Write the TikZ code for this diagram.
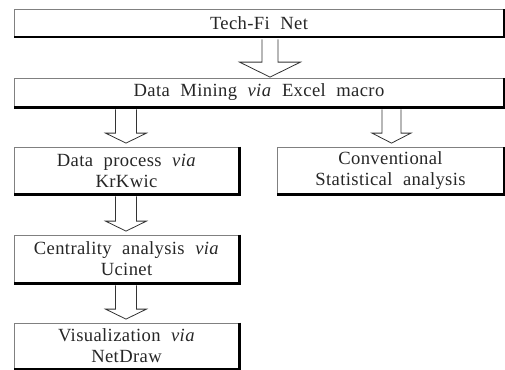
\documentclass[tikz,border=0pt]{standalone}
\usepackage{fontspec}
\setmainfont[WordSpace=2.1,LetterSpace=2]{Liberation Serif}
\usetikzlibrary{calc}

% hollow block arrow: from box, to box, x of the arrow, half shaft, half head, head length, gap at the tip
\newcommand\blockarr[7]{%
  \draw[arrowline]
    ($(#3,0 |- #1.south)+(-#4,2)$) -- ($(#3,0 |- #2.north)+(-#4,-#6-#7)$)
    -- ++(#4-#5,0) -- ($(#3,0 |- #2.north)+(0,-#7)$)
    -- ($(#3,0 |- #2.north)+(#5,-#6-#7)$) -- ++(#4-#5,0)
    -- ($(#3,0 |- #1.south)+(#4,2)$);
}

\begin{document}
\begin{tikzpicture}[x=1pt,y=-1pt,
    flowbox/.style={draw=gray, line width=0.8pt, inner sep=0pt, align=center,
      text=black!85, font=\fontsize{18.6}{21}\selectfont},
    shadowline/.style={line width=2.2pt, black},
    arrowline/.style={line width=0.8pt, black!80, line join=miter}]
  \useasboundingbox (0,0) rectangle (505,369);
  % boxes
  \node[flowbox, minimum width=490pt, minimum height=28pt] (net) at (259,23) {Tech-Fi Net};
  \node[flowbox, minimum width=490pt, minimum height=29pt] (mine) at (259,92.5)
    {Data Mining \textit{via} Excel macro};
  \node[flowbox, minimum width=225pt, minimum height=47pt] (proc) at (126.5,170.5)
    {Data process \textit{via}\\KrKwic};
  \node[flowbox, minimum width=227pt, minimum height=47pt] (stat) at (390.5,170.5)
    {Conventional\\Statistical analysis};
  \node[flowbox, minimum width=225pt, minimum height=48pt] (cent) at (126.5,259)
    {Centrality analysis \textit{via}\\Ucinet};
  \node[flowbox, minimum width=225pt, minimum height=46pt] (vis) at (126.5,346)
    {Visualization \textit{via}\\NetDraw};
  % shadow on right and bottom
  \foreach \b in {net,mine,proc,stat,cent,vis}
    \draw[shadowline] (\b.north east) -- (\b.south east) -- (\b.south west);
  % arrows
  \blockarr{net}{mine}{270}{8}{30.5}{15}{0.5}
  \blockarr{mine}{proc}{126}{10.5}{20.5}{10}{3.5}
  \blockarr{mine}{stat}{391.5}{9.5}{19.5}{10}{3.5}
  \blockarr{proc}{cent}{126}{10.5}{20.5}{10}{3.5}
  \blockarr{cent}{vis}{126}{10.5}{20.5}{10}{3.5}
\end{tikzpicture}
\end{document}
